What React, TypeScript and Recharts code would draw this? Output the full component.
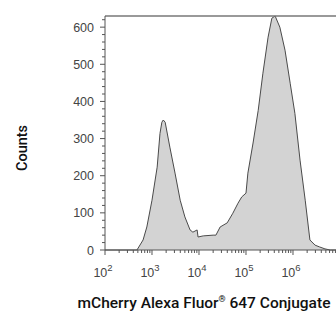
import React from "react";
import { AreaChart, Area, XAxis, YAxis, ReferenceLine, Label } from "recharts";

// histogram, x in log10 units
const logIntensity = [
  2.0, 2.68, 2.81, 2.89, 3.0, 3.11, 3.17, 3.21, 3.24, 3.28, 3.38, 3.49, 3.6, 3.7, 3.81, 3.87,
  3.96, 3.98, 4.09, 4.3, 4.36, 4.45, 4.6, 4.72, 4.83, 4.91, 5.0, 5.04, 5.15, 5.26, 5.36, 5.47,
  5.55, 5.62, 5.72, 5.83, 5.94, 6.04, 6.15, 6.26, 6.36, 6.47, 6.57, 6.68, 6.79, 6.915,
];
const counts = [
  0, 0, 27, 62, 134, 223, 314, 344, 350, 344, 277, 207, 134, 89, 54, 48,
  54, 35, 38, 40, 40, 62, 73, 99, 126, 143, 153, 207, 288, 376, 476, 573,
  624, 630, 600, 538, 449, 368, 242, 134, 27, 13, 8, 3, 0, 0,
];

const decades = [2, 3, 4, 5, 6];
const yLabelTicks = [0, 100, 200, 300, 400, 500, 600];
const xTitle = "mCherry Alexa Fluor";
const xTitleTail = " 647 Conjugate";
const yTitle = "Counts";

const X_MAX = 6.915;
const Y_MAX = 630;

const data = logIntensity.map((l, i) => ({ l, c: counts[i] }));

// minor ticks: every 20 counts, log 2..9 per decade
const yTicks: number[] = [];
for (let v = 0; v <= 620; v += 20) yTicks.push(v);
const xTicks: number[] = [];
decades.forEach((d) => {
  for (let m = 1; m <= 9; m++) {
    const t = d + Math.log10(m);
    if (t <= X_MAX) xTicks.push(t);
  }
});

const tickFont = "'Liberation Sans', Arial, sans-serif";
const axisColor = "#555";

function XTick(props: any) {
  const { x, y, payload } = props;
  const v = payload.value;
  const major = decades.some((d) => Math.abs(d - v) < 1e-6);
  return (
    <g>
      <line x1={x} x2={x} y1={y} y2={y + (major ? 5 : 3)} stroke={axisColor} />
      {major && (
        <text x={x - 2} y={y + 27} textAnchor="middle" fill="#444" fontSize={12.5} fontFamily={tickFont}>
          <tspan>10</tspan>
          <tspan dy={-6} fontSize={9.5}>{Math.round(v)}</tspan>
        </text>
      )}
    </g>
  );
}

function YTick(props: any) {
  const { x, y, payload } = props;
  const v = payload.value;
  const major = yLabelTicks.includes(v);
  return (
    <g>
      <line x1={x} x2={x - (major ? 5 : 3)} y1={y} y2={y} stroke={axisColor} />
      {major && (
        <text x={x - 11} y={y + 4.5} textAnchor="end" fill="#444" fontSize={12.5} fontFamily={tickFont}>
          {v}
        </text>
      )}
    </g>
  );
}

export default function App() {
  return (
    <div style={{ width: 336, height: 312 }}>
      <style>{`body{margin:0}`}</style>
      <AreaChart width={336} height={312} data={data} margin={{ top: 16, right: 0, left: 0, bottom: 0 }}>
        <XAxis
          dataKey="l"
          type="number"
          domain={[2, X_MAX]}
          ticks={xTicks}
          interval={0}
          allowDataOverflow
          height={62}
          tickSize={0}
          tickMargin={0}
          tick={<XTick />}
          stroke={axisColor}
        >
          <Label
            content={() => (
              <text x={204} y={308} textAnchor="middle" fill="#111" fontSize={15.5} fontWeight={500} fontFamily="Roboto, sans-serif">
                <tspan>{xTitle}</tspan>
                <tspan dy={-6} fontSize={9}>®</tspan>
                <tspan dy={6}>{xTitleTail}</tspan>
              </text>
            )}
          />
        </XAxis>
        <YAxis
          type="number"
          domain={[0, Y_MAX]}
          ticks={yTicks}
          interval={0}
          width={105}
          tickSize={0}
          tickMargin={0}
          tick={<YTick />}
          stroke={axisColor}
        >
          <Label
            content={() => (
              <text
                x={22}
                y={148}
                transform="rotate(-90 22 148)"
                textAnchor="middle"
                dominantBaseline="central"
                fill="#111"
                fontSize={14.5}
                fontWeight={500}
                fontFamily="Roboto, sans-serif"
              >
                {yTitle}
              </text>
            )}
          />
        </YAxis>
        <ReferenceLine y={Y_MAX} stroke="#777" strokeWidth={1.5} />
        <Area
          type="linear"
          dataKey="c"
          stroke="#4a4a4a"
          strokeWidth={1}
          fill="#d3d3d3"
          fillOpacity={1}
          isAnimationActive={false}
        />
      </AreaChart>
    </div>
  );
}
